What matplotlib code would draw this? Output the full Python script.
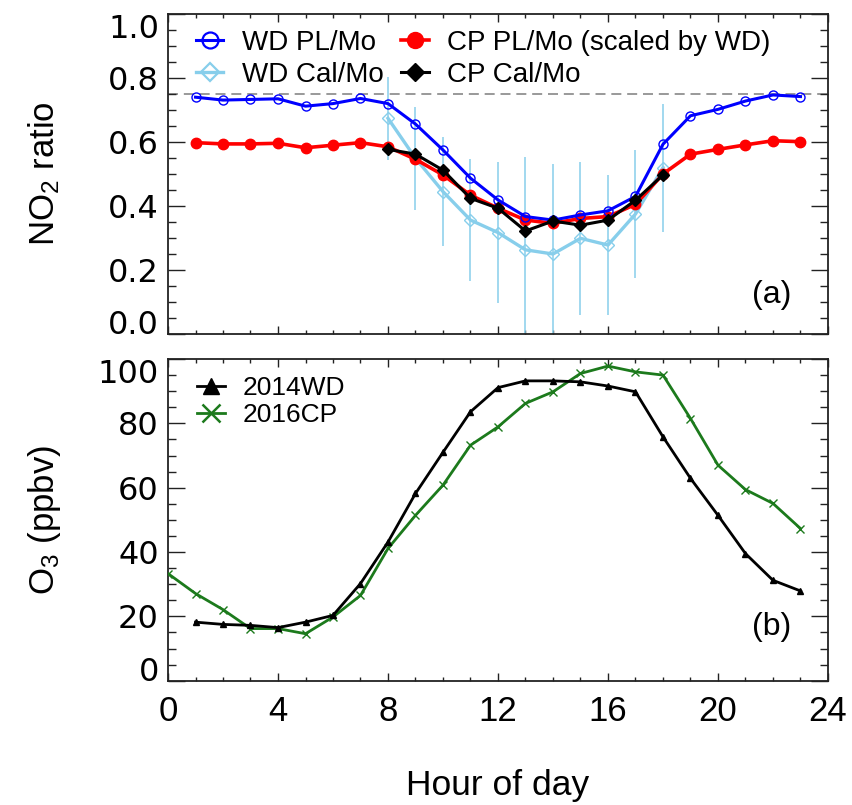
import matplotlib
matplotlib.use("Agg")
import matplotlib.pyplot as plt
from matplotlib.lines import Line2D
from matplotlib.ticker import MultipleLocator

# panel (a): NO2 ratios, hours 1..23 (Cal/Mo only 8..18)
hours_pl = list(range(1, 24))
wd_pl_mo = [0.740, 0.731, 0.733, 0.735, 0.712, 0.720, 0.736, 0.720, 0.656, 0.575, 0.487, 0.419,
            0.367, 0.356, 0.372, 0.385, 0.430, 0.593, 0.682, 0.702, 0.728, 0.747, 0.742]
cp_pl_mo = [0.598, 0.594, 0.594, 0.596, 0.582, 0.590, 0.598, 0.585, 0.546, 0.497, 0.434, 0.393,
            0.356, 0.346, 0.361, 0.367, 0.405, 0.500, 0.562, 0.577, 0.591, 0.604, 0.601]
hours_cal = list(range(8, 19))
wd_cal_mo = [0.674, 0.549, 0.445, 0.356, 0.317, 0.263, 0.250, 0.299, 0.278, 0.375, 0.520]
wd_cal_err = [0.13, 0.16, 0.17, 0.19, 0.22, 0.29, 0.28, 0.24, 0.22, 0.20, 0.20]
cp_cal_mo = [0.577, 0.562, 0.512, 0.424, 0.393, 0.322, 0.353, 0.340, 0.356, 0.418, 0.497]
ratio_ref = 0.75

# panel (b): O3 (ppbv)
hours_2014 = list(range(1, 24))
o3_2014wd = [18.2, 17.5, 17.2, 16.5, 18.2, 20.3, 30.2, 43.1, 58.2, 71.0, 83.6, 91.1,
             93.2, 93.2, 92.9, 91.6, 89.8, 75.8, 62.9, 51.4, 39.5, 31.2, 27.9]
hours_2016 = list(range(0, 24))
o3_2016cp = [33.3, 27.1, 22.1, 16.2, 16.2, 14.6, 19.8, 26.5, 41.1, 51.4, 60.8, 73.2,
             78.9, 86.2, 89.8, 95.5, 97.8, 96.0, 95.0, 81.5, 67.0, 59.4, 55.1, 47.3]

hour_ticks = [0, 4, 8, 12, 16, 20, 24]

BLUE = "#0000ff"
RED = "#ff0000"
SKY = "#87ceeb"
GREEN = "#1c7a1c"
TEXT_FONT = "Liberation Sans"
NUM_FONT = "DejaVu Sans"


def style_axis(ax, ymajor, yminor):
    ax.set_xlim(0, 24)
    ax.xaxis.set_major_locator(MultipleLocator(4))
    ax.xaxis.set_minor_locator(MultipleLocator(1))
    ax.yaxis.set_major_locator(MultipleLocator(ymajor))
    ax.yaxis.set_minor_locator(MultipleLocator(yminor))
    ax.tick_params(which="both", direction="in", top=True, right=True, width=1.0, color="#222222")
    ax.tick_params(axis="x", which="major", length=5.8)
    ax.tick_params(axis="x", which="minor", length=2.9)
    ax.tick_params(axis="y", which="major", length=12, pad=6.5)
    ax.tick_params(axis="y", which="minor", length=6)
    for spine in ax.spines.values():
        spine.set_linewidth(1.3)
        spine.set_color("#222222")


def align_end_labels(ax):
    ticks = ax.yaxis.get_major_ticks()
    ticks[0].label1.set_va("baseline")
    ticks[-1].label1.set_va("top")


def plot_ratio_panel(ax):
    ax.axhline(ratio_ref, color="#888888", linewidth=1.2, dashes=(6, 3.5), zorder=1)
    ax.errorbar(hours_cal, wd_cal_mo, yerr=wd_cal_err, fmt="none", ecolor=SKY,
                elinewidth=1.1, capsize=0, zorder=2)
    ax.plot(hours_cal, wd_cal_mo, color=SKY, linewidth=2.4, marker="D", markersize=6,
            markerfacecolor="none", markeredgecolor=SKY, markeredgewidth=1.0, zorder=3)
    ax.plot(hours_pl, cp_pl_mo, color=RED, linewidth=2.6, marker="o", markersize=7.5,
            markerfacecolor=RED, markeredgecolor=RED, zorder=4)
    ax.plot(hours_pl, wd_pl_mo, color=BLUE, linewidth=2.2, marker="o", markersize=6.5,
            markerfacecolor="none", markeredgecolor=BLUE, markeredgewidth=1.0, zorder=5)
    ax.plot(hours_cal, cp_cal_mo, color="black", linewidth=2.2, marker="D", markersize=6,
            markerfacecolor="black", markeredgecolor="black", zorder=6)

    ax.set_ylim(0, 1.0)
    style_axis(ax, 0.2, 0.05)
    ax.set_yticks([0.0, 0.2, 0.4, 0.6, 0.8, 1.0])
    ax.set_yticklabels(["0.0", "0.2", "0.4", "0.6", "0.8", "1.0"], fontfamily=NUM_FONT, fontsize=23)
    ax.tick_params(axis="x", labelbottom=False)
    ax.set_ylabel("NO$_2$ ratio", fontfamily=TEXT_FONT, fontsize=25, va="center")
    ax.yaxis.set_label_coords(-0.187, 0.5)
    ax.text(0.915, 0.122, "(a)", transform=ax.transAxes, ha="center", va="center",
            fontfamily=TEXT_FONT, fontsize=23)

    handles = [
        Line2D([], [], color=BLUE, linewidth=2.2, marker="o", markersize=11.5,
               markerfacecolor="none", markeredgewidth=1.6),
        Line2D([], [], color=SKY, linewidth=2.4, marker="D", markersize=9,
               markerfacecolor="none", markeredgewidth=1.6),
        Line2D([], [], color=RED, linewidth=2.6, marker="o", markersize=11.5),
        Line2D([], [], color="black", linewidth=2.2, marker="D", markersize=9),
    ]
    labels = ["WD PL/Mo", "WD Cal/Mo", "CP PL/Mo (scaled by WD)", "CP Cal/Mo"]
    ax.legend(handles, labels, loc="upper left", bbox_to_anchor=(0.042, 0.95), ncol=2,
              frameon=False, borderpad=0, borderaxespad=0, handlelength=1.0,
              handletextpad=0.68, columnspacing=0.6, labelspacing=0.22,
              prop={"family": TEXT_FONT, "size": 20})


def plot_ozone_panel(ax):
    ax.plot(hours_2014, o3_2014wd, color="black", linewidth=2.0, marker="^", markersize=5,
            zorder=4)
    ax.plot(hours_2016, o3_2016cp, color=GREEN, linewidth=2.0, marker="x", markersize=6,
            markeredgewidth=1.0, zorder=3)

    ax.set_ylim(0, 100)
    style_axis(ax, 20, 5)
    ax.set_yticks([0, 20, 40, 60, 80, 100])
    ax.set_yticklabels(["0", "20", "40", "60", "80", "100"], fontfamily=NUM_FONT, fontsize=23)
    ax.set_xticks(hour_ticks)
    ax.set_xticklabels([str(h) for h in hour_ticks], fontfamily=TEXT_FONT, fontsize=25)
    ax.tick_params(axis="x", which="major", pad=10)
    ax.set_ylabel("O$_3$ (ppbv)", fontfamily=TEXT_FONT, fontsize=25, va="center")
    ax.yaxis.set_label_coords(-0.187, 0.5)
    ax.set_xlabel("Hour of day", fontfamily=TEXT_FONT, fontsize=25.5, labelpad=30)
    ax.text(0.915, 0.167, "(b)", transform=ax.transAxes, ha="center", va="center",
            fontfamily=TEXT_FONT, fontsize=23)

    handles = [
        Line2D([], [], color="black", linewidth=2.0, marker="^", markersize=11),
        Line2D([], [], color=GREEN, linewidth=2.0, marker="x", markersize=13, markeredgewidth=1.8),
    ]
    ax.legend(handles, ["2014WD", "2016CP"], loc="upper left", bbox_to_anchor=(0.044, 0.947),
              frameon=False, borderpad=0, borderaxespad=0, handlelength=1.06,
              handletextpad=0.65, labelspacing=0.12, prop={"family": TEXT_FONT, "size": 19})


def main() -> int:
    plt.rcParams["mathtext.fontset"] = "custom"
    plt.rcParams["mathtext.rm"] = TEXT_FONT
    plt.rcParams["mathtext.it"] = TEXT_FONT + ":italic"
    fig = plt.figure(figsize=(8.52, 8.05), dpi=100)
    ax_top = fig.add_axes([168 / 852, 1 - 334 / 805, 660 / 852, 320 / 805])
    ax_bot = fig.add_axes([168 / 852, 1 - 680.7 / 805, 660 / 852, 321.7 / 805])

    plot_ratio_panel(ax_top)
    plot_ozone_panel(ax_bot)
    align_end_labels(ax_top)
    align_end_labels(ax_bot)

    fig.savefig("out.png", dpi=100)
    plt.close(fig)
    return 0


if __name__ == "__main__":
    raise SystemExit(main())
